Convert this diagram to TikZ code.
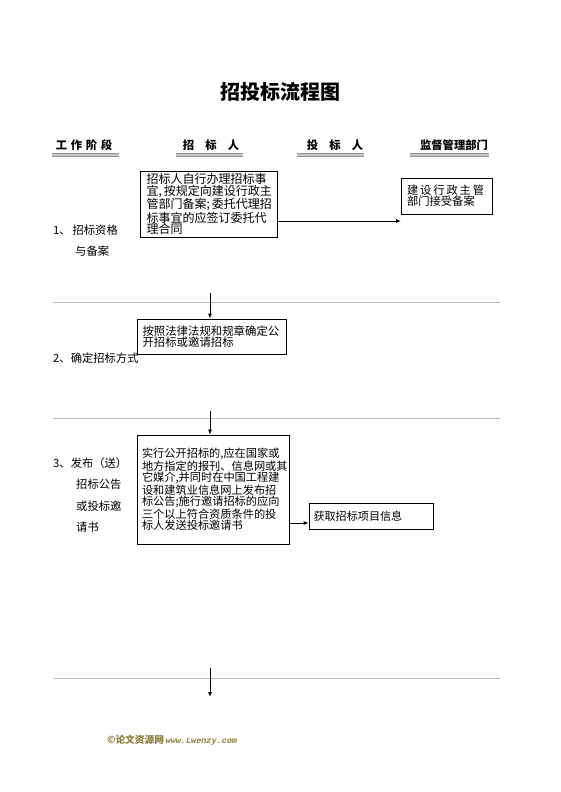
\documentclass[tikz,border=0pt]{standalone}
\usepackage{fontspec}
\setmainfont{Noto Sans CJK SC}
\newfontfamily\wmmono{Liberation Mono}
\usetikzlibrary{arrows.meta}
\definecolor{wm}{HTML}{8B7B3A}
\tikzset{
  box/.style={draw, line width=0.8pt, inner sep=0pt, align=left},
  arr/.style={line width=0.8pt, -{Latex[length=5pt,width=4pt]}},
  sep/.style={draw=gray!55, line width=0.9pt},
  hdr/.style={font=\fontsize{11.3}{12}\selectfont\bfseries, inner sep=0pt},
  uline/.style={draw=gray!85, double=gray!45, double distance=1.4pt, line width=0.9pt},
  stage/.style={font=\fontsize{11.3}{12}\selectfont, inner sep=0pt, anchor=west},
}
\begin{document}
\begin{tikzpicture}[x=1pt,y=-1pt]
\useasboundingbox (0,0) rectangle (560,792);
% title
\node[font=\fontsize{20}{22}\selectfont\bfseries] (title) at (280,92) {招投标流程图};
% headers
\node[hdr] (h1) at (84,145) {工\,\,作\,\,阶\,\,段};
\node[hdr] (h2) at (211,145) {招\quad 标\quad 人};
\node[hdr] (h3) at (335,145) {投\quad 标\quad 人};
\node[hdr] (h4) at (454,145) {监督管理部门};
\draw[uline] (52,155) -- (119,155);
\draw[uline] (176,155) -- (243,155);
\draw[uline] (297,155) -- (364,155);
\draw[uline] (410,155) -- (489,155);
% separators
\draw[sep] (53,302) -- (500,302);
\draw[sep] (53,418) -- (500,418);
\draw[sep] (54,678) -- (500,678);
% stage labels
\node[stage] (s1a) at (53,230) {1、\,招标资格};
\node[stage] (s1b) at (75,251) {与备案};
\node[stage] (s2) at (53,358) {2、确定招标方式};
\node[stage] (s3a) at (53,463) {3、发布（送）};
\node[stage] (s3b) at (76,484) {招标公告};
\node[stage] (s3c) at (76,506) {或投标邀};
\node[stage] (s3d) at (76,527) {请书};
% boxes
\node[box, minimum width=137, minimum height=66, text width=124,
      font=\fontsize{12}{11.7}\selectfont] (b1) at (208.5,204)
  {招标人自行办理招标事\\宜,\,按规定向建设行政主\\管部门备案;\,委托代理招\\标事宜的应签订委托代\\理合同};
\node[box, minimum width=91, minimum height=36, text width=79,
      font=\fontsize{11.3}{11}\selectfont] (b2) at (446.5,196)
  {建\,设\,行\,政\,主\,管\\部门接受备案\\[4pt]};
\node[box, minimum width=149, minimum height=35, text width=138,
      font=\fontsize{11.4}{10.5}\selectfont] (b3) at (211.5,336.5)
  {按照法律法规和规章确定公\\开招标或邀请招标};
\node[box, minimum width=152, minimum height=109, text width=142,
      font=\fontsize{11.2}{11.3}\selectfont] (b4) at (213,489.5)
  {实行公开招标的,应在国家或\\地方指定的报刊、信息网或其\\它媒介,并同时在中国工程建\\设和建筑业信息网上发布招\\标公告;施行邀请招标的应向\\三个以上符合资质条件的投\\标人发送投标邀请书};
\node[box, minimum width=124, minimum height=26, text width=115,
      font=\fontsize{11.1}{11}\selectfont] (b5) at (371,516)
  {获取招标项目信息\\[5pt]};
% connectors
\coordinate (a1) at (401,221);
\draw[arr] (b1.east |- a1) -- (a1);
\coordinate (v1) at (210,293);
\draw[arr] (v1) -- (v1 |- b3.north);
\coordinate (v2) at (210,411);
\draw[arr] (v2) -- (v2 |- b4.north);
\coordinate (a2) at (0,523);
\draw[arr] (b4.east |- a2) -- (b5.west |- a2);
\coordinate (v3) at (210,668);
\coordinate (v3e) at (210,697);
\draw[arr] (v3) -- (v3e);
% watermark
\node[anchor=west, inner sep=0pt, text=wm] (wmk) at (107,740)
  {\fontsize{9.7}{12}\selectfont\bfseries ©论文资源网\,{\wmmono\fontsize{8.5}{12}\selectfont\itshape\bfseries www.Lwenzy.com}};
\end{tikzpicture}
\end{document}
